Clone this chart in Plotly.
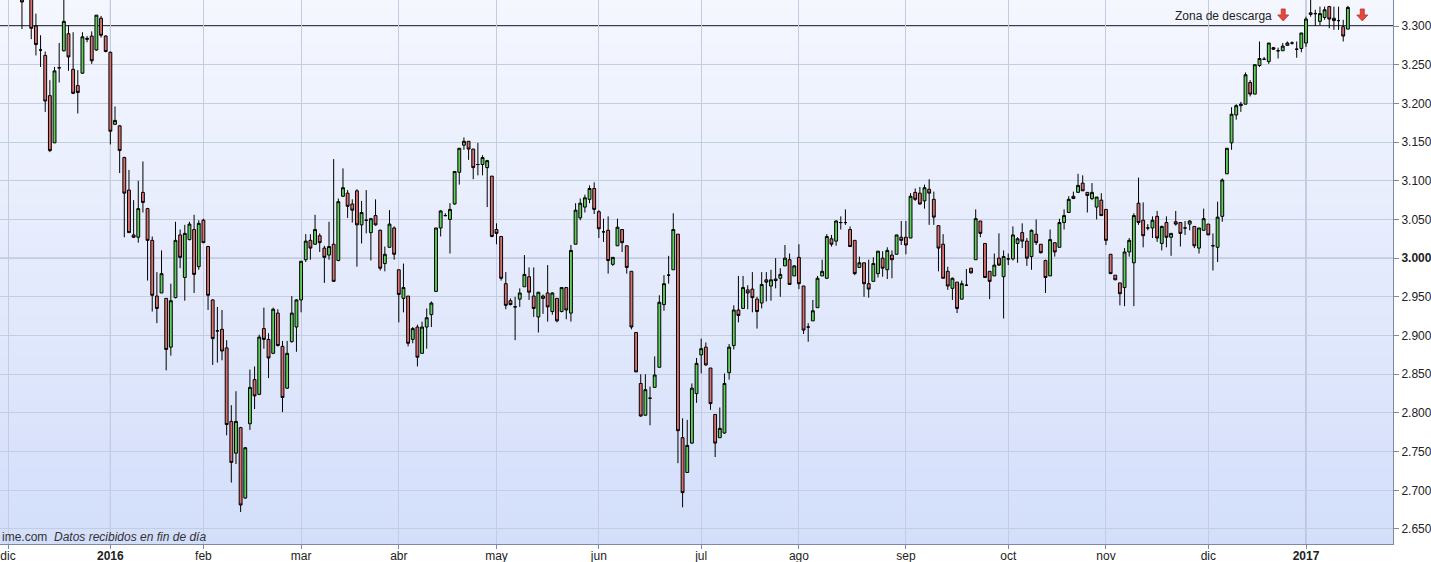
import pandas as pd
import plotly.graph_objects as go

# ---------------- data ----------------
holidays = ["2015-12-25", "2016-01-01", "2016-03-25", "2016-03-28", "2016-12-26"]
dates = [d for d in pd.bdate_range("2015-12-01", "2017-01-13") if d.strftime("%Y-%m-%d") not in holidays]

open_vals = [
    3450, 3430, 3400, 3350, 3345, 3360, 3300, 3269, 3262, 3210,
    3149, 3246, 3268, 3290, 3244, 3223, 3239, 3284, 3287, 3269,
    3310, 3287, 3266, 3173, 3171, 3130, 3088, 3030, 3027, 3085,
    3064, 3023, 2951, 2955, 2948, 2885, 2949, 3030, 2975, 3024,
    3037, 2989, 3049, 3015, 2946, 2906, 2908, 2884, 2789, 2748,
    2781, 2690, 2786, 2843, 2824, 2909, 2895, 2877, 2929, 2886,
    2832, 2892, 2911, 2946, 2998, 3023, 3018, 3029, 3013, 3004,
    3018, 2997, 3080, 3084, 3070, 3087, 3043, 3049, 3033, 3055,
    3036, 2993, 3014, 3039, 2985, 2948, 2951, 2895, 2911, 2877,
    2911, 2927, 2957, 3039, 3055, 3050, 3070, 3111, 3146, 3151,
    3141, 3121, 3121, 3117, 3106, 3037, 3028, 2967, 2945, 2937,
    2947, 2963, 2976, 2951, 2924, 2948, 2955, 2931, 2948, 2931,
    2962, 2929, 3018, 3052, 3066, 3076, 3090, 3060, 3034, 3036,
    2992, 3016, 3037, 3016, 2983, 2904, 2838, 2797, 2819, 2833,
    2859, 2940, 2978, 2985, 3031, 2768, 2723, 2761, 2825, 2875,
    2885, 2858, 2798, 2768, 2774, 2852, 2887, 2933, 2935, 2959,
    2960, 2947, 2942, 2972, 2964, 2973, 2974, 2990, 2998, 2977,
    3001, 2964, 2911, 2919, 2936, 2977, 2974, 3025, 3022, 3046,
    3046, 3037, 3023, 2988, 2994, 2967, 2970, 2980, 3000, 2985,
    3004, 3005, 3027, 3027, 3026, 3085, 3084, 3074, 3089, 3076,
    3042, 3018, 2983, 2961, 2969, 2947, 2965, 2987, 2998, 3048,
    3019, 2983, 2977, 3000, 2976, 2999, 2999, 3019, 3033, 3022,
    3002, 3031, 3018, 2997, 2977, 3020, 3014, 3046, 3059, 3080,
    3085, 3097, 3085, 3077, 3066, 3075, 3063, 3005, 2978, 2968,
    2962, 3008, 2994, 3071, 3049, 3039, 3039, 3054, 3019, 3046,
    3027, 3047, 3046, 3039, 3044, 3041, 3013, 3036, 3044, 3016,
    3014, 3054, 3109, 3149, 3185, 3197, 3199, 3227, 3212, 3249,
    3257, 3254, 3272, 3268, 3268, 3275, 3278, 3270, 3271, 3278,
    3317, 3316, 3306, 3311, 3325, 3310, 3307, 3299, 3296,
]
high_vals = [
    3480, 3445, 3420, 3365, 3375, 3368, 3316, 3288, 3267, 3230,
    3247, 3278, 3345, 3301, 3292, 3243, 3292, 3287, 3293, 3314,
    3313, 3288, 3267, 3196, 3172, 3131, 3114, 3075, 3100, 3125,
    3065, 3028, 2982, 3010, 2948, 2967, 3047, 3037, 3043, 3047,
    3056, 3049, 3051, 3016, 2947, 2937, 2933, 2894, 2810, 2828,
    2782, 2756, 2856, 2860, 2901, 2936, 2903, 2936, 2934, 2893,
    2893, 2951, 2947, 2996, 3031, 3031, 3056, 3032, 3016, 3047,
    3128, 3077, 3116, 3088, 3076, 3089, 3074, 3088, 3052, 3076,
    3037, 3015, 3062, 3041, 2985, 2993, 2951, 2911, 2914, 2918,
    2935, 2944, 3039, 3062, 3058, 3071, 3112, 3142, 3156, 3151,
    3141, 3149, 3133, 3127, 3106, 3045, 3028, 2982, 2948, 2950,
    2961, 3004, 2988, 2988, 2956, 2953, 2991, 2956, 2948, 2962,
    2962, 3017, 3071, 3077, 3082, 3094, 3098, 3062, 3051, 3054,
    3001, 3051, 3037, 3016, 2983, 2904, 2850, 2850, 2834, 2873,
    2952, 2978, 3003, 3058, 3031, 2793, 2791, 2838, 2871, 2896,
    2891, 2858, 2798, 2807, 2851, 2889, 2939, 2977, 2977, 2965,
    2982, 2950, 2982, 2982, 2985, 3000, 2987, 3017, 3006, 2991,
    3018, 2964, 2916, 2946, 2977, 2998, 3031, 3030, 3049, 3054,
    3063, 3041, 3023, 3002, 2994, 2998, 3001, 3009, 3009, 3014,
    3010, 3030, 3048, 3048, 3084, 3090, 3092, 3095, 3102, 3086,
    3042, 3031, 2989, 2975, 2969, 2971, 2986, 2987, 3063, 3048,
    3019, 2983, 3006, 3032, 3010, 3006, 3041, 3027, 3045, 3026,
    3037, 3050, 3018, 2998, 3037, 3020, 3051, 3063, 3080, 3086,
    3109, 3107, 3085, 3097, 3079, 3084, 3063, 3005, 2978, 2968,
    3013, 3026, 3058, 3104, 3072, 3044, 3054, 3061, 3042, 3054,
    3032, 3061, 3046, 3048, 3049, 3041, 3039, 3064, 3044, 3032,
    3073, 3103, 3142, 3195, 3199, 3202, 3240, 3230, 3250, 3280,
    3260, 3278, 3273, 3272, 3278, 3280, 3280, 3280, 3291, 3312,
    3345, 3321, 3325, 3325, 3326, 3325, 3325, 3308, 3326,
]
low_vals = [
    3410, 3390, 3345, 3296, 3338, 3283, 3262, 3247, 3189, 3137,
    3149, 3227, 3267, 3242, 3212, 3187, 3238, 3279, 3251, 3268,
    3285, 3266, 3147, 3172, 3110, 3027, 3033, 3026, 3020, 3059,
    2971, 2931, 2916, 2955, 2855, 2874, 2948, 2987, 2945, 3023,
    2955, 2985, 3020, 2933, 2862, 2865, 2868, 2771, 2710, 2734,
    2672, 2689, 2778, 2805, 2823, 2883, 2845, 2876, 2886, 2801,
    2831, 2891, 2879, 2930, 2995, 2998, 3017, 3008, 2968, 2998,
    2970, 2996, 3079, 3052, 3046, 2989, 3019, 3032, 2997, 3042,
    2984, 2983, 3014, 2998, 2917, 2930, 2886, 2890, 2860, 2877,
    2883, 2911, 2957, 3028, 3054, 3006, 3069, 3095, 3140, 3127,
    3102, 3107, 3107, 3066, 3027, 3018, 2971, 2934, 2939, 2894,
    2937, 2963, 2946, 2924, 2904, 2928, 2918, 2927, 2917, 2930,
    2921, 2918, 3018, 3049, 3059, 3071, 3057, 3026, 3021, 2980,
    2990, 3016, 3008, 2980, 2908, 2853, 2795, 2797, 2784, 2833,
    2859, 2932, 2967, 2985, 2735, 2678, 2723, 2760, 2813, 2851,
    2861, 2804, 2743, 2768, 2773, 2843, 2882, 2917, 2935, 2934,
    2930, 2909, 2935, 2944, 2945, 2961, 2950, 2990, 2966, 2977,
    2960, 2902, 2892, 2919, 2936, 2977, 2973, 3015, 3016, 3037,
    3043, 3015, 2978, 2988, 2950, 2949, 2970, 2975, 2976, 2973,
    2974, 3005, 3017, 3005, 3026, 3074, 3069, 3064, 3043, 3043,
    2983, 2974, 2959, 2946, 2929, 2947, 2964, 2980, 2998, 3027,
    2975, 2947, 2977, 2990, 2922, 2991, 2997, 2994, 3013, 2990,
    2985, 3017, 3006, 2955, 2977, 3002, 3014, 3037, 3059, 3077,
    3085, 3087, 3059, 3075, 3050, 3055, 3017, 2980, 2972, 2939,
    2938, 3002, 2938, 3043, 3014, 3036, 3026, 3021, 3010, 3014,
    3003, 3042, 3015, 3030, 3036, 3013, 3006, 3036, 3030, 2984,
    2995, 3047, 3109, 3140, 3179, 3189, 3199, 3209, 3212, 3247,
    3256, 3251, 3269, 3258, 3268, 3275, 3276, 3259, 3266, 3273,
    3312, 3300, 3301, 3308, 3297, 3295, 3295, 3280, 3296,
]
close_vals = [
    3430, 3400, 3350, 3331, 3365, 3297, 3276, 3269, 3203, 3139,
    3242, 3246, 3306, 3260, 3213, 3214, 3286, 3283, 3255, 3314,
    3288, 3267, 3164, 3178, 3139, 3084, 3033, 3027, 3064, 3072,
    3023, 2952, 2935, 2980, 2882, 2945, 3023, 3001, 3032, 3044,
    2979, 3045, 3020, 2952, 2896, 2906, 2880, 2785, 2736, 2789,
    2681, 2755, 2833, 2822, 2898, 2895, 2871, 2934, 2887, 2820,
    2877, 2929, 2946, 2996, 3022, 3013, 3037, 3020, 3001, 3015,
    2970, 3073, 3091, 3067, 3062, 3043, 3059, 3049, 3051, 3043,
    2987, 3005, 3044, 3005, 2953, 2962, 2890, 2909, 2872, 2911,
    2923, 2942, 3039, 3061, 3055, 3063, 3112, 3142, 3151, 3141,
    3117, 3121, 3130, 3126, 3028, 3032, 2974, 2939, 2940, 2937,
    2955, 2979, 2956, 2935, 2956, 2951, 2937, 2955, 2919, 2962,
    2933, 3010, 3062, 3071, 3078, 3090, 3063, 3038, 3034, 2997,
    3001, 3040, 3020, 2988, 2911, 2853, 2796, 2830, 2819, 2849,
    2943, 2967, 2978, 3037, 2777, 2697, 2758, 2832, 2864, 2883,
    2862, 2812, 2761, 2780, 2838, 2885, 2933, 2926, 2962, 2955,
    2949, 2931, 2966, 2969, 2972, 2971, 2979, 3000, 2966, 2990,
    2967, 2907, 2911, 2932, 2974, 2983, 3028, 3018, 3048, 3046,
    3046, 3015, 2980, 2994, 2967, 2960, 2993, 3009, 2987, 3010,
    2998, 3030, 3023, 3017, 3080, 3076, 3070, 3091, 3084, 3053,
    3013, 2974, 2964, 2974, 2935, 2967, 2965, 2981, 3051, 3032,
    2975, 2970, 2991, 2991, 3002, 2999, 3030, 3025, 3022, 3000,
    3036, 3020, 3007, 2975, 3024, 3008, 3046, 3055, 3076, 3077,
    3094, 3087, 3081, 3085, 3079, 3055, 3023, 2980, 2972, 2954,
    3008, 3023, 3055, 3046, 3029, 3039, 3049, 3026, 3041, 3027,
    3032, 3044, 3032, 3039, 3048, 3016, 3039, 3051, 3030, 3016,
    3053, 3101, 3142, 3186, 3197, 3199, 3237, 3212, 3250, 3258,
    3257, 3278, 3270, 3268, 3274, 3278, 3278, 3270, 3291, 3309,
    3315, 3316, 3316, 3321, 3309, 3307, 3307, 3287, 3324,
]

month_labels = ["dic", "<b>2016</b>", "feb", "mar", "abr", "may", "jun",
                "jul", "ago", "sep", "oct", "nov", "dic", "<b>2017</b>"]
price_ticks = list(range(2650, 3301, 50))
resistance_level = 3300

# ---------------- derived ----------------
n = len(dates)
assert n == len(open_vals) == len(high_vals) == len(low_vals) == len(close_vals), n
xs = list(range(n))

month_idx = []
prev = None
for i, d in enumerate(dates):
    key = (d.year, d.month)
    if key != prev:
        month_idx.append(i)
        prev = key

price_text = []
for v in price_ticks:
    s = f"{v:,}".replace(",", ".")
    price_text.append(f"<b>{s}</b>" if v == 3000 else s)

FONT = "Liberation Sans, Arial, sans-serif"
GREEN = "#5fd05a"
RED = "#d9706f"
GRID = "#c4cce1"
GRID_DARK = "#a3abc4"
AXIS = "#7f88a4"

fig = go.Figure()
fig.add_trace(go.Candlestick(
    x=xs, open=open_vals, high=high_vals, low=low_vals, close=close_vals,
    increasing=dict(line=dict(color="black", width=1), fillcolor=GREEN),
    decreasing=dict(line=dict(color="black", width=1), fillcolor=RED),
    whiskerwidth=0, showlegend=False,
    text=[d.strftime("%d/%m/%Y") for d in dates], hoverinfo="text+y",
))

# gradient background
shapes = []
N = 64
top = (245, 247, 255)
bot = (211, 222, 250)
for k in range(N):
    t = (k + 0.5) / N  # 0 bottom .. 1 top
    c = tuple(round(bot[j] + (top[j] - bot[j]) * t) for j in range(3))
    shapes.append(dict(type="rect", xref="paper", yref="paper", x0=0, x1=1,
                       y0=k / N, y1=(k + 1) / N + 0.002, line=dict(width=0),
                       fillcolor=f"rgb{c}", layer="below"))
# darker year lines and 3.000 line
for yi in (month_idx[1], month_idx[13]):
    shapes.append(dict(type="line", xref="x", yref="paper", x0=yi, x1=yi, y0=0, y1=1,
                       line=dict(color=GRID_DARK, width=1), layer="between"))
shapes.append(dict(type="line", xref="paper", yref="y", x0=0, x1=1, y0=3000, y1=3000,
                   line=dict(color=GRID_DARK, width=1), layer="between"))
# resistance line
shapes.append(dict(type="line", xref="paper", yref="y", x0=0, x1=1,
                   y0=resistance_level, y1=resistance_level,
                   line=dict(color="black", width=1.3), layer="between"))
# red down arrows (pixel-sized paths anchored at data points)
ARROW = "M-2,12 L2,12 L2,6 L5.5,6 L0,0 L-5.5,6 L-2,6 Z"
for ax_idx in (n - 14.9, n + 2.1):
    shapes.append(dict(type="path", xref="x", yref="y", xsizemode="pixel", ysizemode="pixel",
                       xanchor=ax_idx, yanchor=3306.5, path=ARROW,
                       fillcolor="#e8473c", line=dict(color="#b3362c", width=0.8), layer="above"))

annotations = [
    dict(x=n - 16.8, y=3313, xref="x", yref="y", text="Zona de descarga",
         showarrow=False, xanchor="right", yanchor="middle",
         font=dict(family=FONT, size=12, color="#222")),
    dict(x=0, y=0.013, xref="paper", yref="paper", text="ime.com  <i>Datos recibidos en fin de día</i>",
         showarrow=False, xanchor="left", yanchor="middle",
         font=dict(family=FONT, size=12, color="#333")),
]

fig.update_layout(
    width=1431, height=562,
    margin=dict(l=0, r=38, t=0, b=18),
    paper_bgcolor="white", plot_bgcolor="rgb(245,247,255)",
    font=dict(family=FONT, size=12, color="#222"),
    shapes=shapes, annotations=annotations,
    hovermode="closest", boxgap=0.12,
    xaxis=dict(
        range=[-1.72, 297.7], rangeslider=dict(visible=False),
        tickmode="array", tickvals=month_idx, ticktext=month_labels,
        showgrid=True, gridcolor=GRID, gridwidth=1,
        ticks="outside", ticklen=4, tickcolor=AXIS,
        showline=True, linecolor=AXIS, linewidth=1,
        zeroline=False, automargin=False, ticklabelstandoff=-3,
        tickfont=dict(family=FONT, size=12, color="#222"),
    ),
    yaxis=dict(
        range=[2630.6, 3333.6], side="right",
        tickmode="array", tickvals=price_ticks, ticktext=price_text,
        showgrid=True, gridcolor=GRID, gridwidth=1,
        ticks="outside", ticklen=5, tickcolor=AXIS,
        showline=True, linecolor=AXIS, linewidth=1,
        zeroline=False, automargin=False,
        tickfont=dict(family=FONT, size=12, color="#222"),
    ),
)

fig.write_html("out.html", config={"displayModeBar": False},
               post_script="document.body.style.margin='0px';document.body.style.overflow='hidden';")
